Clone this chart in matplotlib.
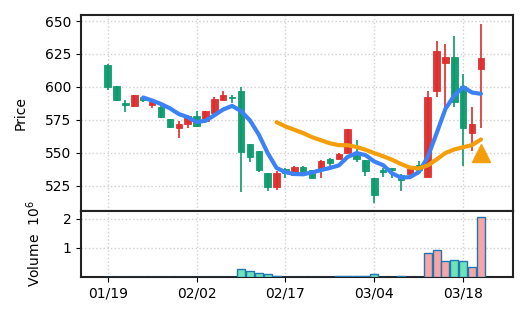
import matplotlib
matplotlib.use("Agg")
import matplotlib.pyplot as plt
import numpy as np
import pandas as pd

# daily OHLC (index = trading day)
opens = [616.6, 600.5, 588.0, 585.7, 592.0, 586.5, 585.0, 575.5, 568.5, 571.5,
         578.0, 574.0, 580.0, 590.0, 592.5, 596.5, 556.5, 551.0, 534.5, 524.0,
         537.5, 533.0, 539.5, 536.5, 537.0, 545.5, 545.0, 550.0, 548.0, 544.5,
         530.5, 537.0, 538.0, 533.0, 533.5, 540.5, 531.5, 597.0, 618.0, 623.0,
         600.5, 565.0, 613.5]
highs = [617.0, 601.0, 590.0, 594.0, 593.0, 589.0, 585.5, 575.5, 574.0, 578.5,
         581.5, 582.0, 592.0, 597.0, 594.0, 600.0, 556.5, 551.0, 534.5, 536.0,
         538.0, 540.0, 540.0, 537.0, 544.5, 546.0, 550.0, 568.0, 559.5, 544.5,
         530.5, 538.0, 538.5, 534.0, 538.0, 544.0, 597.0, 635.0, 632.5, 638.5,
         609.5, 584.5, 647.5]
lows = [597.5, 589.5, 581.0, 585.5, 588.3, 583.7, 576.0, 569.0, 561.5, 569.0,
        569.5, 574.0, 580.0, 590.0, 588.0, 520.5, 543.0, 535.0, 521.0, 521.5,
        530.5, 532.0, 532.5, 531.0, 530.5, 540.0, 545.0, 550.0, 543.0, 532.0,
        512.0, 531.5, 530.5, 521.0, 533.5, 537.0, 531.5, 592.0, 585.0, 585.0,
        540.0, 551.0, 568.5]
closes = [600.0, 590.0, 586.0, 593.6, 590.0, 588.5, 577.0, 569.5, 572.0, 578.0,
          570.0, 581.7, 590.5, 594.0, 591.5, 550.5, 546.5, 536.5, 524.0, 534.5,
          534.5, 539.5, 535.5, 531.0, 543.5, 542.5, 549.0, 568.0, 545.5, 536.0,
          518.0, 535.0, 537.0, 529.5, 537.5, 537.0, 592.0, 627.0, 623.0, 588.5,
          568.5, 571.5, 622.0]
# volume in millions
volume = [0.01, 0.01, 0.01, 0.01, 0.0, 0.0, 0.01, 0.01, 0.0, 0.0,
          0.0, 0.0, 0.01, 0.01, 0.0, 0.29, 0.20, 0.13, 0.09, 0.02,
          0.0, 0.01, 0.0, 0.0, 0.01, 0.0, 0.04, 0.02, 0.05, 0.03,
          0.10, 0.0, 0.0, 0.02, 0.01, 0.01, 0.82, 0.92, 0.54, 0.57,
          0.54, 0.36, 2.05]

tick_pos = [0, 10, 20, 30, 40]
tick_labels = ["01/19", "02/02", "02/17", "03/04", "03/18"]

signal_idx = [42]
signal_price = [549.5]

UP = "#de2c2c"
DOWN = "#0b9a6d"
UP_VOL = "#f8a5a5"
DOWN_VOL = "#6fe3b6"

df = pd.DataFrame({"open": opens, "high": highs, "low": lows,
                   "close": closes, "volume": volume})
x = np.arange(len(df))
ma5 = df["close"].rolling(5).mean()
ma20 = df["close"].rolling(20).mean()
up = df["close"] >= df["open"]

fig = plt.figure(figsize=(5.27, 3.22), dpi=100)
ax = fig.add_axes([0.1537, 0.3447, 0.8197, 0.6087])
axv = fig.add_axes([0.1537, 0.1398, 0.8197, 0.2049], sharex=ax)

for i in x:
    c = UP if up[i] else DOWN
    ax.vlines(i, df["low"][i], df["high"][i], color=c, lw=1.2, zorder=2)
    lo = min(df["open"][i], df["close"][i])
    h = max(abs(df["close"][i] - df["open"][i]), 0.8)
    ax.bar(i, h, bottom=lo, width=0.72, color=c, edgecolor=c,
           lw=0.6, zorder=3, alpha=0.95)

ax.plot(x, ma5, color="#3b82f6", lw=3, zorder=4, solid_capstyle="round")
ax.plot(x, ma20, color="#f59e0b", lw=3, zorder=4, solid_capstyle="round")
ax.plot(signal_idx, signal_price, "^", color="#f59e0b", ms=13, zorder=5)

ax.set_ylim(505.7, 654.6)
ax.set_yticks([525, 550, 575, 600, 625, 650])
ax.set_ylabel("Price", fontsize=10)
ax.yaxis.set_label_coords(-0.123, 0.5)
ax.grid(True, ls=":", color="#d0d0d0", lw=1)
ax.tick_params(axis="x", bottom=False, labelbottom=False)
ax.tick_params(axis="y", labelsize=10)

vcol = [UP_VOL if u else DOWN_VOL for u in up]
axv.bar(x, df["volume"], width=0.9, color=vcol, edgecolor="#1f77b4",
        lw=1, zorder=3)
axv.set_ylim(0, 2.27)
axv.set_yticks([1, 2])
axv.set_ylabel("Volume  $10^6$", fontsize=10)
axv.yaxis.set_label_coords(-0.088, 0.5)
axv.grid(True, ls=":", color="#d0d0d0", lw=1)
axv.set_xticks(tick_pos)
axv.set_xticklabels(tick_labels)
axv.tick_params(labelsize=10)
axv.set_xlim(-3, 45.6)

for a in (ax, axv):
    for s in a.spines.values():
        s.set_linewidth(1.5)
        s.set_color("#222222")

fig.savefig("out.png", dpi=100)
